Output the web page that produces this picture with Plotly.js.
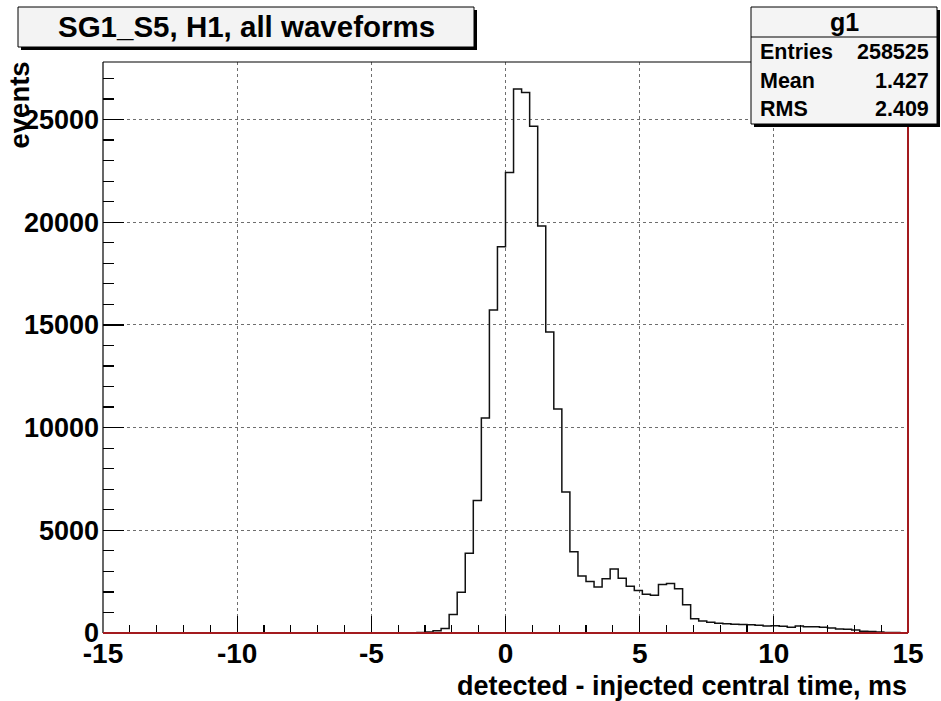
<!DOCTYPE html>
<html>
<head>
<meta charset="utf-8">
<script src="https://cdn.plot.ly/plotly-3.0.1.min.js"></script>
<style>
  html, body { margin: 0; padding: 0; background: #ffffff; }
  #plot { width: 941px; height: 701px; }
</style>
</head>
<body>
<div id="plot"></div>
<script>
// Histogram "g1": 100 bins of 0.3 ms between -15 and 15 ms
const xMin = -15;
const xMax = 15;
const binWidth = 0.3;
const counts = [
  0, 0, 0, 0, 0, 0, 0, 0, 0, 0,
  0, 0, 0, 0, 0, 0, 0, 0, 0, 0,
  0, 0, 0, 0, 0, 0, 0, 0, 0, 0,
  0, 0, 0, 0, 0, 0, 0, 5, 15, 25,
  50, 110, 220, 900, 1980, 3880, 6450, 10470, 15720, 18800,
  22420, 26480, 26320, 24670, 19810, 14650, 10900, 6870, 3950, 2770,
  2510, 2240, 2640, 3110, 2670, 2280, 2070, 1890, 1840, 2360,
  2410, 2150, 1370, 690, 590, 520, 475, 455, 425, 410,
  405, 375, 345, 355, 330, 285, 335, 310, 300, 280,
  240, 200, 180, 150, 80, 70, 45, 30, 20, 10
];
const yMax = 27800;

const xTickVals = [-15, -10, -5, 0, 5, 10, 15];
const yTickVals = [0, 5000, 10000, 15000, 20000, 25000];

const histTitle = 'SG1_S5, H1, all waveforms';
const statsName = 'g1';
const statLabels = ['Entries', 'Mean', 'RMS'];
const statValues = ['258525', '1.427', '2.409'];
const xTitle = 'detected - injected central time, ms';
const yTitle = 'events';

// step outline: one point per bin edge, last count repeated to close the final bin
const edges = [];
const levels = [];
for (let i = 0; i <= counts.length; i++) {
  edges.push(xMin + i * binWidth);
  levels.push(i < counts.length ? counts[i] : counts[counts.length - 1]);
}

// frame geometry (pixels) -> paper coordinates
const W = 941, H = 701;
const L = 103, R = 908, T = 62, B = 633;
const px = v => (v - L) / (R - L);
const py = v => (B - v) / (B - T);

const FONT = 'Liberation Sans, Arial, Helvetica, sans-serif';
const RED = '#a31a1e';

const trace = {
  type: 'scatter',
  mode: 'lines',
  x: edges,
  y: levels,
  line: { shape: 'hv', color: '#111111', width: 1.5 },
  hoverinfo: 'x+y',
  showlegend: false
};

function box(x0, y0, x1, y1, fill, lw) {
  return {
    type: 'rect', xref: 'paper', yref: 'paper', layer: 'above',
    x0: px(x0), x1: px(x1), y0: py(y1), y1: py(y0),
    fillcolor: fill, line: { color: '#000000', width: lw }
  };
}
function seg(x0, y0, x1, y1, color, w) {
  return {
    type: 'line', xref: 'paper', yref: 'paper', layer: 'above',
    x0: px(x0), x1: px(x1), y0: py(y0), y1: py(y1),
    line: { color: color, width: w }
  };
}

const shapes = [
  // frame
  seg(L, T, L, B, '#000000', 1.2),
  seg(L, T, R, T, '#000000', 1.2),
  seg(R, T, R, B, RED, 2),
  seg(L, B, R, B, RED, 2.2),
  // title box with drop shadow
  box(21, 10, 477, 50, '#000000', 0),
  box(18, 7, 474, 47, '#f3f3f3', 1),
  // statistics box with drop shadow
  box(754, 10, 940, 127, '#000000', 0),
  box(751, 7, 937, 124, '#f4f4f4', 1),
  seg(751, 37, 937, 37, '#000000', 1)
];

const bold = (size) => ({ family: FONT, size: size, color: '#000000', weight: 'bold' });

const annotations = [
  { text: histTitle, x: px(246), y: py(27), xanchor: 'center', yanchor: 'middle', font: bold(29.5) },
  { text: statsName, x: px(844), y: py(22), xanchor: 'center', yanchor: 'middle', font: bold(25) },
  { text: xTitle, x: px(R), y: py(686), xanchor: 'right', yanchor: 'middle', font: bold(27) },
  { text: yTitle, textangle: -90, x: px(19), y: py(61), xanchor: 'center', yanchor: 'top', font: bold(27.5) }
];
const rowY = [52, 81, 109];
statLabels.forEach((lab, i) => {
  annotations.push({ text: lab, x: px(759), y: py(rowY[i]), xanchor: 'left', yanchor: 'middle', font: bold(21.5) });
  annotations.push({ text: statValues[i], x: px(930), y: py(rowY[i]), xanchor: 'right', yanchor: 'middle', font: bold(21.5) });
});
annotations.forEach(a => { a.xref = 'paper'; a.yref = 'paper'; a.showarrow = false; a.borderpad = 0; });

const layout = {
  width: W, height: H,
  margin: { l: L, r: W - R, t: T, b: H - B, pad: 0 },
  paper_bgcolor: '#ffffff',
  plot_bgcolor: '#ffffff',
  showlegend: false,
  xaxis: {
    range: [xMin, xMax],
    tickmode: 'array', tickvals: xTickVals, ticktext: xTickVals.map(String),
    ticks: 'inside', ticklen: 17, tickwidth: 1.2, tickcolor: '#000000',
    minor: { dtick: 1, ticks: 'inside', ticklen: 8, tickwidth: 1.2, tickcolor: '#000000', showgrid: false },
    showgrid: true, gridcolor: '#6e6e6e', griddash: 'dot', gridwidth: 1,
    zeroline: false, showline: false,
    tickfont: bold(28),
    ticklabelstandoff: 1
  },
  yaxis: {
    range: [0, yMax],
    tickmode: 'array', tickvals: yTickVals, ticktext: yTickVals.map(String),
    ticks: 'inside', ticklen: 21, tickwidth: 1.2, tickcolor: '#000000',
    minor: { dtick: 1000, ticks: 'inside', ticklen: 11, tickwidth: 1.2, tickcolor: '#000000', showgrid: false },
    showgrid: true, gridcolor: '#6e6e6e', griddash: 'dot', gridwidth: 1,
    zeroline: false, showline: false,
    tickfont: bold(27),
    ticklabelstandoff: 3
  },
  shapes: shapes,
  annotations: annotations
};

Plotly.newPlot('plot', [trace], layout, { displayModeBar: false, staticPlot: true });
</script>
</body>
</html>
